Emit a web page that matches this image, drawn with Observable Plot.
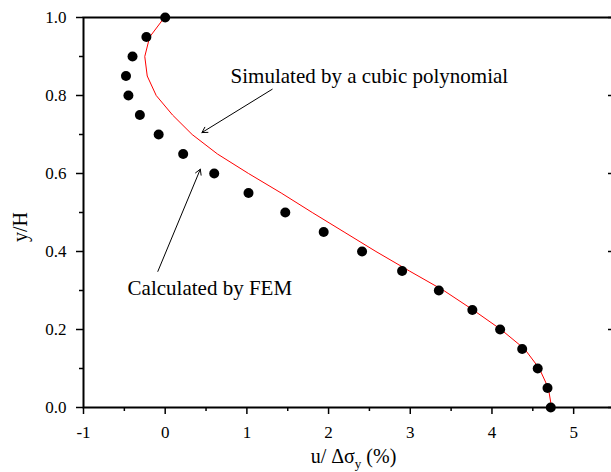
<!DOCTYPE html>
<html>
<head>
<meta charset="utf-8">
<script src="https://cdn.jsdelivr.net/npm/d3@7"></script>
<script src="https://cdn.jsdelivr.net/npm/@observablehq/plot@0.6"></script>
<style>
  html, body { margin: 0; padding: 0; background: #fff; }
  svg { display: block; }
  svg text { font-family: "Liberation Serif", "Times New Roman", Tinos, "DejaVu Serif", serif !important; }
</style>
</head>
<body>
<div id="chart"></div>
<script>
// FEM results (dots): normalized depth y/H and displacement u/Δσy (%)
const femY = [0, 0.05, 0.10, 0.15, 0.20, 0.25, 0.30, 0.35, 0.40, 0.45, 0.50, 0.55, 0.60, 0.65, 0.70, 0.75, 0.80, 0.85, 0.90, 0.95, 1.00];
const femU = [4.72, 4.68, 4.56, 4.37, 4.10, 3.76, 3.35, 2.90, 2.41, 1.94, 1.47, 1.02, 0.60, 0.22, -0.08, -0.31, -0.45, -0.48, -0.40, -0.23, 0.00];

// Cubic polynomial fit (red line)
const fitY = [0, 0.05, 0.10, 0.15, 0.20, 0.25, 0.30, 0.35, 0.40, 0.45, 0.50, 0.55, 0.60, 0.65, 0.70, 0.75, 0.80, 0.85, 0.90, 0.95, 1.00];
const fitU = [4.73, 4.69, 4.58, 4.40, 4.11, 3.77, 3.41, 2.99, 2.58, 2.19, 1.80, 1.42, 1.02, 0.64, 0.33, 0.09, -0.11, -0.22, -0.25, -0.19, -0.01];

// Axis ticks
const xMajor = [-1, 0, 1, 2, 3, 4, 5];
const xMinor = [-0.5, 0.5, 1.5, 2.5, 3.5, 4.5, 5.5];
const xTickLabels = ["-1", "0", "1", "2", "3", "4", "5"];
const yMajor = [0, 0.2, 0.4, 0.6, 0.8, 1.0];
const yMinor = [0.1, 0.3, 0.5, 0.7, 0.9];
const yTickLabels = ["0.0", "0.2", "0.4", "0.6", "0.8", "1.0"];

// Annotations (data coordinates)
const noteText = ["Simulated by a cubic polynomial", "Calculated by FEM"];
const noteX = [0.80, -0.46];
const noteY = [0.850, 0.305];
const arrowX1 = [1.31, -0.09];
const arrowY1 = [0.816, 0.349];
const arrowX2 = [0.45, 0.43];
const arrowY2 = [0.705, 0.611];

const fem = femY.map((y, i) => ({y, u: femU[i]}));
const fit = fitY.map((y, i) => ({y, u: fitU[i]}));
const notes = noteText.map((t, i) => ({t, x: noteX[i], y: noteY[i]}));
const arrows = arrowX1.map((x1, i) => ({x1, y1: arrowY1[i], x2: arrowX2[i], y2: arrowY2[i]}));

const serif = "Liberation Serif, Times New Roman, Tinos, DejaVu Serif, serif";

const svg = Plot.plot({
  width: 611,
  height: 472,
  marginLeft: 83,
  marginTop: 17,
  marginBottom: 65,
  marginRight: -3,
  style: {fontFamily: serif, background: "#fff", color: "#000"},
  x: {domain: [-1, 5.5]},
  y: {domain: [0, 1]},
  marks: [
    Plot.axisX(xMajor, {tickSize: 7, tickPadding: 11, fontSize: 17, strokeWidth: 1.5, fontFamily: serif,
      tickFormat: (d) => xTickLabels[xMajor.indexOf(d)], label: null}),
    Plot.axisX(xMinor, {tickSize: 4, strokeWidth: 1.5, tickFormat: () => "", label: null}),
    Plot.axisY(yMajor, {tickSize: 7, tickPadding: 10, fontSize: 17, strokeWidth: 1.5, fontFamily: serif,
      tickFormat: (d) => yTickLabels[yMajor.indexOf(d)], label: null}),
    Plot.axisY(yMinor, {tickSize: 4, strokeWidth: 1.5, tickFormat: () => "", label: null}),
    Plot.axisY(yMajor, {anchor: "right", tickSize: -7, strokeWidth: 1.5, tickFormat: () => "", label: null}),
    Plot.axisY(yMinor, {anchor: "right", tickSize: -4, strokeWidth: 1.5, tickFormat: () => "", label: null}),
    Plot.frame({stroke: "#000", strokeWidth: 2}),
    Plot.line(fit, {x: "u", y: "y", stroke: "#ff0000", strokeWidth: 1}),
    Plot.dot(fem, {x: "u", y: "y", r: 5, fill: "#000", stroke: "none"}),
    Plot.arrow(arrows, {x1: "x1", y1: "y1", x2: "x2", y2: "y2", stroke: "#000", strokeWidth: 1, headLength: 9, bend: 0, insetEnd: 0}),
    Plot.text(notes, {x: "x", y: "y", text: "t", textAnchor: "start", fontSize: 21, fill: "#000", fontFamily: serif})
  ]
});

// axis titles (with subscript)
const sx = svg.scale("x"), sy = svg.scale("y");
const g = d3.select(svg).append("g").attr("font-family", serif).attr("fill", "#000");
const xl = g.append("text")
  .attr("x", (sx.range[0] + sx.range[1]) / 2 + 5)
  .attr("y", 463)
  .attr("text-anchor", "middle")
  .attr("font-size", 20);
xl.append("tspan").text("u/ Δσ");
xl.append("tspan").attr("font-size", 13).attr("dy", 5).text("y");
xl.append("tspan").attr("dy", -5).text(" (%)");
g.append("text")
  .attr("transform", `translate(27, ${(sy.range[0] + sy.range[1]) / 2 + 15}) rotate(-90)`)
  .attr("text-anchor", "middle")
  .attr("font-size", 20)
  .text("y/H");

document.getElementById("chart").appendChild(svg);
</script>
</body>
</html>
